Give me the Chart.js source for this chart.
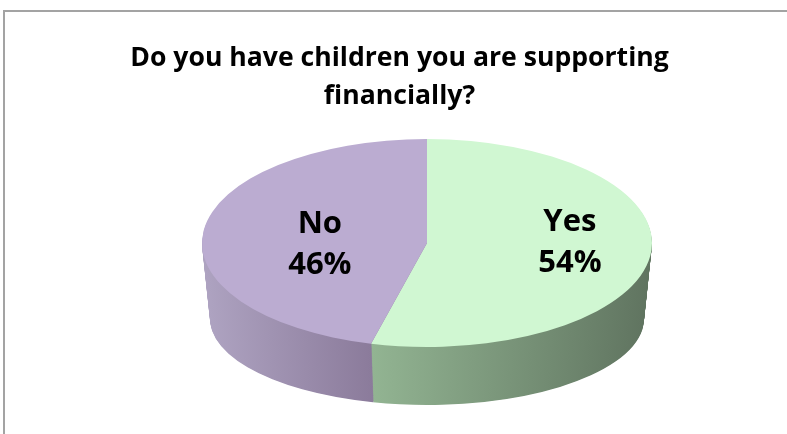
<!DOCTYPE html>
<html>
<head>
<meta charset="utf-8">
<script src="https://cdn.jsdelivr.net/npm/chart.js@4.4.1/dist/chart.umd.min.js"></script>
<style>
    html, body { margin: 0; padding: 0; background: #ffffff; overflow: hidden; }
    #chart_frame { position: absolute; left: 3px; top: 10px; width: 830px; height: 500px; border: 2px solid #a3a3a3; }
    #children_pie_cnv { position: absolute; left: 0; top: 0; }
</style>
</head>
<body>
<div id="chart_frame"></div>
<canvas id="children_pie_cnv" width="787" height="434"></canvas>
<script>
// survey answers
const answer_labels = ["Yes", "No"];
const answer_percents = [54, 46];
const title_lines = ["Do you have children you are supporting", "financially?"];

const top_colors = ["#d0f7d2", "#bbacd1"];
const wall_colors = [["#92b492", "#607460"], ["#aea3c1", "#8b7b9b"]];  // light -> dark, left to right

// ellipse that the flat pie gets projected onto
const pie_center_x = 427;
const pie_center_y = 243;
const pie_rx = 225;
const pie_ry = 104;
const side_depth = 76;   // wall height at left / right edge
const front_depth = 58;  // wall height at the front
const label_radius = [0.64, 0.48];
const label_nudge_y = [0, 17];

/**
 * Moves the library's circle onto the tilted ellipse, t = 0 top face, t = 1 bottom face.
 */
function project_pie(ctx, arc, t) {
    const r = arc.outerRadius;
    const rx = pie_rx - t * 8;
    const ry = pie_ry + t * (front_depth - side_depth);
    ctx.translate(pie_center_x, pie_center_y + t * side_depth);
    ctx.scale(rx / r, ry / r);
    ctx.translate(-arc.x, -arc.y);
}

function wall_gradient(ctx, arc, colors) {
    // x range of the slice part that faces the viewer (sin > 0)
    let min_x = Infinity, max_x = -Infinity;
    for (let a = arc.startAngle; a <= arc.endAngle; a += 0.005) {
        if (Math.sin(a) > 0) {
            min_x = Math.min(min_x, Math.cos(a));
            max_x = Math.max(max_x, Math.cos(a));
        }
    }
    if (min_x === Infinity) { min_x = -1; max_x = 1; }
    const grad = ctx.createLinearGradient(arc.x + min_x * arc.outerRadius, 0, arc.x + max_x * arc.outerRadius, 0);
    grad.addColorStop(0, colors[0]);
    grad.addColorStop(1, colors[1]);
    return grad;
}

const pie_3d = {
    id: "pie_3d",
    beforeDatasetsDraw(chart) {
        const ctx = chart.ctx;
        const arcs = chart.getDatasetMeta(0).data;
        const fills = arcs.map((arc, i) => wall_gradient(ctx, arc, wall_colors[i]));

        // stack the slices from the bottom face up to build the walls
        for (let s = side_depth; s >= 1; s--) {
            ctx.save();
            project_pie(ctx, arcs[0], s / side_depth);
            arcs.forEach((arc, i) => {
                const wall = Object.create(arc);
                wall.options = Object.assign({}, arc.options, {backgroundColor: fills[i]});
                wall.draw(ctx);
            });
            ctx.restore();
        }

        // the top face is drawn by the library inside this transform
        ctx.save();
        project_pie(ctx, arcs[0], 0);
    },
    afterDatasetsDraw(chart) {
        const ctx = chart.ctx;
        ctx.restore();

        const arcs = chart.getDatasetMeta(0).data;
        ctx.save();
        ctx.fillStyle = "#000000";
        ctx.font = "bold 31px 'Open Sans'";
        ctx.textAlign = "center";
        ctx.textBaseline = "alphabetic";
        arcs.forEach((arc, i) => {
            const mid = (arc.startAngle + arc.endAngle) / 2;
            const x = pie_center_x + Math.cos(mid) * label_radius[i] * pie_rx;
            const y = pie_center_y + Math.sin(mid) * label_radius[i] * pie_ry + label_nudge_y[i];
            ctx.fillText(answer_labels[i], x, y - 20.5);
            ctx.fillText(answer_percents[i] + "%", x, y + 20.5);
        });
        ctx.restore();
    }
};

function draw_children_pie() {
    const cnv = document.getElementById("children_pie_cnv");
    new Chart(cnv, {
        "type": "pie",
        "data": {
            "labels": answer_labels,
            "datasets": [{
                "data": answer_percents,
                "backgroundColor": top_colors,
                "borderWidth": 0,
                "clip": false
            }]
        },
        "options": {
            "responsive": false,
            "animation": false,
            "rotation": 0,
            "layout": {"padding": {"left": 12, "right": 0, "top": 0, "bottom": 0}},
            "plugins": {
                "legend": {"display": false},
                "tooltip": {"enabled": false},
                "title": {
                    "display": true,
                    "text": title_lines,
                    "color": "#000000",
                    "font": {"family": "'Open Sans'", "weight": "bold", "size": 26.6, "lineHeight": 1.43},
                    "padding": {"top": 39, "bottom": 8}
                }
            }
        },
        "plugins": [pie_3d]
    });
}

if (document.fonts && document.fonts.load) {
    Promise.all([
        document.fonts.load("bold 26px 'Open Sans'"),
        document.fonts.load("bold 31px 'Open Sans'")
    ]).then(draw_children_pie, draw_children_pie);
} else {
    draw_children_pie();
}
</script>
</body>
</html>
